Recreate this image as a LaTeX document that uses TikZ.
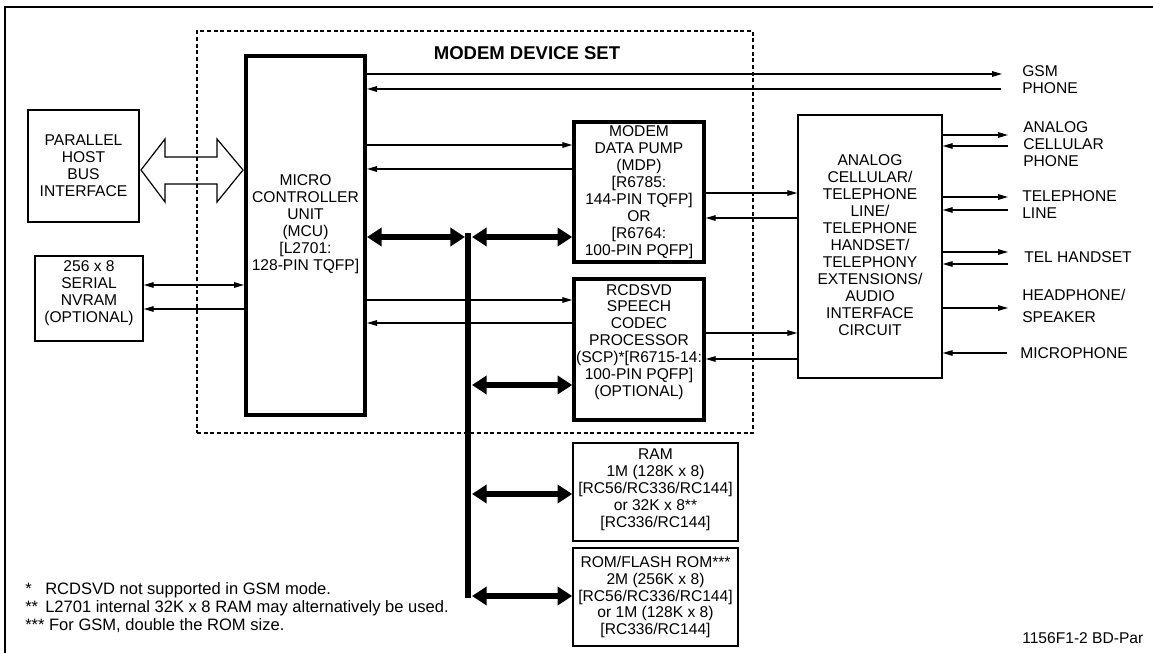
\documentclass[tikz,border=0pt]{standalone}
\usepackage{fontspec}
\setmainfont{Liberation Sans}
\usetikzlibrary{arrows.meta,fit}
\tikzset{
  thinbox/.style={draw, line width=1.1pt, inner sep=0pt},
  thickbox/.style={draw, line width=3pt, inner sep=0pt},
  midbox/.style={draw, line width=2.6pt, inner sep=0pt},
  dashbox/.style={draw, line width=1.1pt, dash pattern=on 3pt off 2pt, inner sep=0pt},
  txt/.style={font=\fontsize{11.7}{12.7}\selectfont, align=center, inner sep=0pt},
  ltxt/.style={font=\fontsize{11.7}{12.7}\selectfont, align=left, inner sep=0pt, anchor=west},
  fntxt/.style={font=\fontsize{12.4}{13.5}\selectfont, inner sep=0pt, anchor=base west},
  sig/.style={line width=0.9pt, -{Triangle[length=7.5pt,width=4.2pt]}},
  sigboth/.style={line width=0.9pt, {Triangle[length=7.5pt,width=4.2pt]}-{Triangle[length=7.5pt,width=4.2pt]}},
  bus/.style={line width=4.6pt, {Triangle[length=11pt,width=13.5pt]}-{Triangle[length=11pt,width=13.5pt]}},
}
\begin{document}
\begin{tikzpicture}[x=0.75pt,y=-0.75pt]
\useasboundingbox (0,0) rectangle (1153,653);
% outer frame (top and left edges)
\draw[line width=1.7pt] (5,653) -- (5,7) -- (1153,7);

% modem device set
\node[dashbox, fit={(197,31) (753,433)}] (mds) {};
\node[inner sep=0pt, font=\fontsize{13.9}{15}\selectfont\bfseries] (mdslabel) at (527,53) {MODEM DEVICE SET};

% boxes
\node[thinbox, fit={(28,110) (139,222)}] (host) {};
\node[txt] (hostt) at (83.5,166) {PARALLEL\\HOST\\BUS\\INTERFACE};

\node[thinbox, fit={(35,256) (143,341)}] (nv) {};
\node[txt] (nvt) at (89,293) {256 x 8\\SERIAL\\NVRAM\\(OPTIONAL)};

\node[thickbox, fit={(246,56) (365,415)}] (mcu) {};
\node[txt] (mcut) at (305.5,224) {MICRO\\CONTROLLER\\UNIT\\(MCU)\\{[}L2701:\\128-PIN TQFP]};

\node[midbox, fit={(574,122) (704,262)}] (mdp) {};
\node[txt] (mdpt) at (639,192) {MODEM\\DATA PUMP\\(MDP)\\{[}R6785:\\144-PIN TQFP]\\OR\\{[}R6764:\\100-PIN PQFP]};

\node[midbox, fit={(574,279) (704,420)}] (scp) {};
\node[txt] (scpt) at (639,342) {RCDSVD\\SPEECH\\CODEC\\PROCESSOR\\(SCP)*[R6715-14:\\100-PIN PQFP]\\(OPTIONAL)};

\node[thinbox, fit={(573,443) (738,541)}] (ram) {};
\node[txt] (ramt) at (655.5,490) {RAM\\1M (128K x 8)\\{[}RC56/RC336/RC144]\\or 32K x 8**\\{[}RC336/RC144]};

\node[thinbox, fit={(573,548) (738,646)}] (rom) {};
\node[txt] (romt) at (655.5,597) {ROM/FLASH ROM***\\2M (256K x 8)\\{[}RC56/RC336/RC144]\\or 1M (128K x 8)\\{[}RC336/RC144]};

\node[thinbox, fit={(798,115) (942,378)}] (ana) {};
\node[txt] (anat) at (870,245) {ANALOG\\CELLULAR/\\TELEPHONE\\LINE/\\TELEPHONE\\HANDSET/\\TELEPHONY\\EXTENSIONS/\\AUDIO\\INTERFACE\\CIRCUIT};

% hollow double arrow host <-> mcu
\draw[line width=0.9pt, line join=miter] (141,170) -- (165,139) -- (165,157) -- (217,157) -- (217,139) -- (243,170)
  -- (217,202) -- (217,184) -- (165,184) -- (165,202) -- cycle;

% NVRAM
\draw[sigboth] (nv.east |- 0,285) -- (mcu.west |- 0,285);
\draw[sig] (mcu.west |- 0,309) -- (nv.east |- 0,309);

% GSM phone
\coordinate (gsmout) at (1002,74);
\coordinate (gsmin) at (1001,89);
\draw[sig] (mcu.east |- 0,74) -- (gsmout);
\draw[sig] (gsmin) -- (mcu.east |- 0,89);

% MCU <-> MDP / SCP
\draw[sig] (mcu.east |- 0,145) -- (mdp.west |- 0,145);
\draw[sig] (mdp.west |- 0,169) -- (mcu.east |- 0,169);
\draw[sig] (mcu.east |- 0,300) -- (scp.west |- 0,300);
\draw[sig] (scp.west |- 0,323) -- (mcu.east |- 0,323);

% MDP / SCP <-> analog
\draw[sig] (mdp.east |- 0,193) -- (ana.west |- 0,193);
\draw[sig] (ana.west |- 0,218) -- (mdp.east |- 0,218);
\draw[sig] (scp.east |- 0,333) -- (ana.west |- 0,333);
\draw[sig] (ana.west |- 0,359) -- (scp.east |- 0,359);

% bus
\coordinate (bustop) at (468,233);
\coordinate (busbot) at (468,598);
\draw[line width=4.2pt] (bustop) -- (busbot);
\coordinate (busL) at (465,0);
\coordinate (busR) at (472,0);
\draw[bus] (mcu.east |- 0,237) -- (busL |- 0,237);
\draw[bus] (busR |- 0,237) -- (mdp.west |- 0,237);
\draw[bus] (busR |- 0,385) -- (scp.west |- 0,385);
\draw[bus] (busR |- 0,494) -- (ram.west |- 0,494);
\draw[bus] (busR |- 0,596) -- (rom.west |- 0,596);

% right side
\coordinate (acpo) at (1008,135);
\coordinate (acpi) at (1008,146);
\coordinate (tlo) at (1008,197);
\coordinate (tli) at (1008,210);
\coordinate (tho) at (1008,252);
\coordinate (thi) at (1008,264);
\coordinate (hpo) at (1008,308);
\coordinate (mici) at (1007,353);
\draw[sig] (ana.east |- 0,135) -- (acpo);
\draw[sig] (acpi) -- (ana.east |- 0,146);
\draw[sig] (ana.east |- 0,197) -- (tlo);
\draw[sig] (tli) -- (ana.east |- 0,210);
\draw[sig] (ana.east |- 0,252) -- (tho);
\draw[sig] (thi) -- (ana.east |- 0,264);
\draw[sig] (ana.east |- 0,308) -- (hpo);
\draw[sig] (mici) -- (ana.east |- 0,353);

% right labels
\node[ltxt] (gsml) at (1022,79.5) {GSM\\PHONE};
\node[ltxt] (acpl) at (1023,144) {ANALOG\\CELLULAR\\PHONE};
\node[ltxt] (tll) at (1022,204.5) {TELEPHONE\\LINE};
\node[ltxt] (thl) at (1024,257) {TEL HANDSET};
\node[ltxt] (hpl) at (1022,306) {HEADPHONE/\\[4pt]SPEAKER};
\node[ltxt] (micl) at (1020,353) {MICROPHONE};
\node[ltxt] (figid) at (1022,638) {1156F1-2 BD-Par};

% footnotes
\node[fntxt] (fn1) at (25,594) {\makebox[15pt][l]{*}RCDSVD not supported in GSM mode.};
\node[fntxt] (fn2) at (25,612) {\makebox[15pt][l]{**}L2701 internal 32K x 8 RAM may alternatively be used.};
\node[fntxt] (fn3) at (25,630) {*** For GSM, double the ROM size.};
\end{tikzpicture}
\end{document}
